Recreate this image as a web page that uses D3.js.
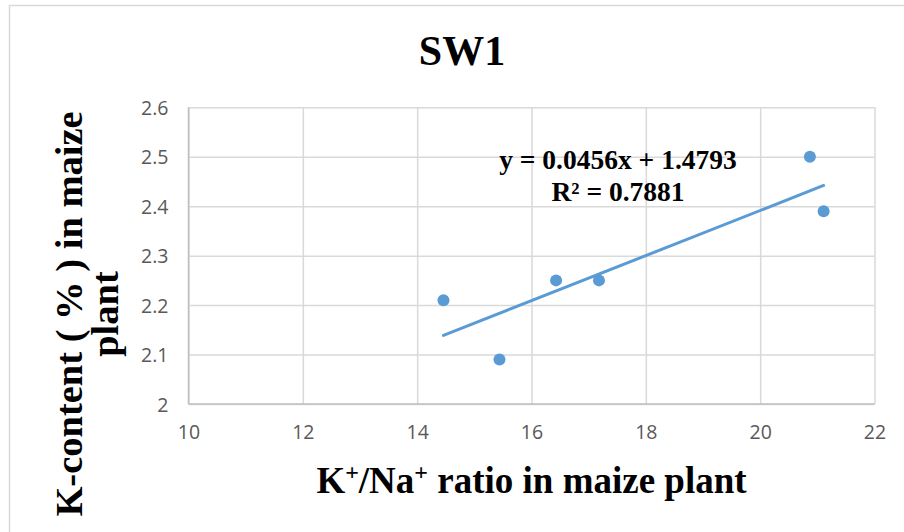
<!DOCTYPE html>
<html>
<head>
<meta charset="utf-8">
<script src="https://cdn.jsdelivr.net/npm/d3@7"></script>
<style>
  html, body { margin: 0; padding: 0; background: #ffffff; }
  svg { display: block; }
</style>
</head>
<body>
<svg id="chart" width="904" height="532"></svg>
<script>
// K+/Na+ ratio vs. K content, site SW1
const kNaRatio  = [14.46, 15.44, 16.43, 17.18, 20.87, 21.11];
const kContent  = [2.21, 2.09, 2.25, 2.25, 2.50, 2.39];

const xTicks = [10, 12, 14, 16, 18, 20, 22];
const yTicks = [2, 2.1, 2.2, 2.3, 2.4, 2.5, 2.6];

// Linear trendline fitted to the points
const trendSlope = 0.0456;
const trendIntercept = 1.4793;
const trendLabel = "y = 0.0456x + 1.4793";
const r2Label = "R\u00B2 = 0.7881";

const svg = d3.select("#chart");
const W = 904, H = 532;
const plot = { left: 188.5, right: 874.5, top: 107.3, bottom: 404 };

const blue = "#5b9bd5";
const gridColor = "#d9d9d9";
const serif = "'Liberation Serif', 'Times New Roman', serif";
const sans = "'Open Sans', 'Liberation Sans', sans-serif";

// Chart frame
svg.append("rect")
  .attr("x", 9.5).attr("y", 5.5)
  .attr("width", W + 20).attr("height", H + 20)
  .attr("fill", "#ffffff")
  .attr("stroke", gridColor).attr("stroke-width", 1.5);

const x = d3.scaleLinear().domain([10, 22]).range([plot.left, plot.right]);
const y = d3.scaleLinear().domain([2, 2.6]).range([plot.bottom, plot.top]);

// Gridlines
const xAxis = d3.axisBottom(x).tickValues(xTicks)
  .tickSize(-(plot.bottom - plot.top)).tickFormat(d3.format("d")).tickPadding(20);
const yAxis = d3.axisLeft(y).tickValues(yTicks)
  .tickSize(-(plot.right - plot.left)).tickFormat(d => d3.format("")(d)).tickPadding(20);

const gx = svg.append("g")
  .attr("transform", `translate(0,${plot.bottom})`)
  .call(xAxis);
const gy = svg.append("g")
  .attr("transform", `translate(${plot.left},0)`)
  .call(yAxis);

[gx, gy].forEach(g => {
  g.select(".domain").remove();
  g.selectAll(".tick line").attr("stroke", gridColor).attr("stroke-width", 1.5);
  g.selectAll(".tick text")
    .attr("fill", "#595959")
    .style("font-family", sans)
    .style("font-size", "19.5px");
});
gx.selectAll(".tick text").attr("dy", "0.75em");
gy.selectAll(".tick text").attr("dy", "0.36em");

// Axis lines
svg.append("line")
  .attr("x1", plot.left).attr("x2", plot.left)
  .attr("y1", plot.top).attr("y2", plot.bottom)
  .attr("stroke", "#bfbfbf").attr("stroke-width", 1.5);
svg.append("line")
  .attr("x1", plot.left).attr("x2", plot.right)
  .attr("y1", plot.bottom).attr("y2", plot.bottom)
  .attr("stroke", "#bfbfbf").attr("stroke-width", 1.5);

// Trendline across the data range
const xMin = d3.min(kNaRatio), xMax = d3.max(kNaRatio);
svg.append("line")
  .attr("x1", x(xMin)).attr("y1", y(trendSlope * xMin + trendIntercept))
  .attr("x2", x(xMax)).attr("y2", y(trendSlope * xMax + trendIntercept))
  .attr("stroke", blue).attr("stroke-width", 3).attr("stroke-linecap", "round");

// Points
svg.append("g").selectAll("circle")
  .data(kNaRatio.map((v, i) => [v, kContent[i]]))
  .join("circle")
  .attr("cx", d => x(d[0]))
  .attr("cy", d => y(d[1]))
  .attr("r", 6)
  .attr("fill", blue);

// Trendline equation
const eq = svg.append("text")
  .attr("text-anchor", "middle")
  .attr("font-family", serif).attr("font-weight", "bold")
  .attr("font-size", 27.5).attr("fill", "#000");
eq.append("tspan").attr("x", 618).attr("y", 169).text(trendLabel);
eq.append("tspan").attr("x", 618).attr("y", 201).text(r2Label);

// Title
svg.append("text")
  .attr("x", 462).attr("y", 65)
  .attr("text-anchor", "middle")
  .attr("font-family", serif).attr("font-weight", "bold")
  .attr("font-size", 42).attr("fill", "#000")
  .text("SW1");

// X axis title with superscripts
const xt = svg.append("text")
  .attr("x", (plot.left + plot.right) / 2).attr("y", 493)
  .attr("text-anchor", "middle")
  .attr("font-family", serif).attr("font-weight", "bold")
  .attr("font-size", 37).attr("fill", "#000");
xt.append("tspan").text("K");
xt.append("tspan").attr("font-size", 24).attr("dy", -13).text("+");
xt.append("tspan").attr("dy", 13).text("/Na");
xt.append("tspan").attr("font-size", 24).attr("dy", -13).text("+");
xt.append("tspan").attr("dy", 13).text(" ratio in maize plant");

// Y axis title (two lines, rotated)
const yt = svg.append("text")
  .attr("transform", "translate(0,314) rotate(-90)")
  .attr("text-anchor", "middle")
  .attr("font-family", serif).attr("font-weight", "bold")
  .attr("font-size", 38.5).attr("fill", "#000");
yt.append("tspan").attr("x", 0).attr("y", 82).text("K-content ( % ) in maize");
yt.append("tspan").attr("x", 0).attr("y", 118).text("plant");
</script>
</body>
</html>
